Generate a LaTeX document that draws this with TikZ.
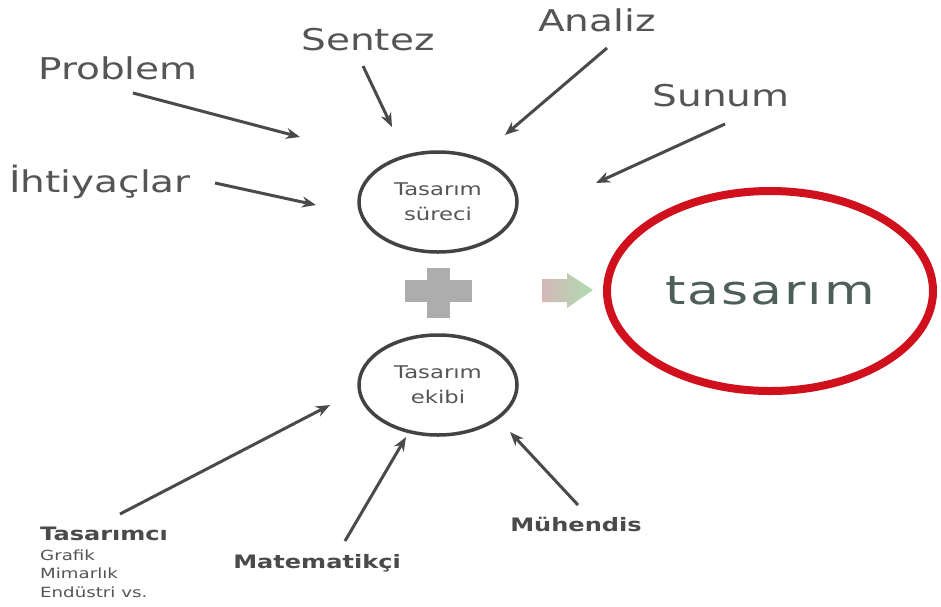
\documentclass[tikz,border=0pt]{standalone}
\usepackage{fontspec}
\setmainfont{DejaVu Sans}[FakeStretch=1.3]
\usetikzlibrary{arrows.meta,shapes.geometric}
\definecolor{lbl}{HTML}{555555}
\definecolor{arr}{HTML}{4A4A4A}
\definecolor{redc}{HTML}{D0101C}
\definecolor{bigt}{HTML}{4E5E58}
\begin{document}
\begin{tikzpicture}[x=1pt,y=-1pt,
  lab/.style={text=lbl,font=\fontsize{30}{32}\selectfont,inner sep=0pt},
  small/.style={text=arr,font=\bfseries\fontsize{18.5}{20}\selectfont,inner sep=0pt},
  tiny/.style={text=lbl,font=\fontsize{14}{16}\selectfont,inner sep=0pt,anchor=west},
  circ/.style={ellipse,draw=arr!90!black,line width=3.5pt,minimum width=158pt,minimum height=100pt,align=center,text=lbl,font=\fontsize{17.5}{25}\selectfont},
  pt/.style={-{Stealth[length=14pt,width=11pt]},draw=arr,line width=3pt}]
\useasboundingbox (0,0) rectangle (941,606);
\fill[white] (0,0) rectangle (941,606);
% circles
\node[circ] (sur) at (438,202) {Tasarım\\süreci};
\node[circ] (ekip) at (438,385) {Tasarım\\ekibi};
\node[ellipse,draw=redc,line width=8pt,minimum width=326pt,minimum height=200pt,
  text=bigt,font=\fontsize{40}{44}\selectfont] (tas) at (770,291) {t\kern2pt a\kern2pt s\kern2pt a\kern2pt r\kern2pt ı\kern2pt m};
% plus sign
\fill[black!32] (405,280) rectangle (472,302);
\fill[black!32] (427,268) rectangle (450,318);
% gradient arrow
\shade[left color=red!25!gray!45,right color=green!40!gray!45]
  (542,279) -- (567,279) -- (567,273) -- (593,290) -- (567,308) -- (567,302) -- (542,302) -- cycle;
% labels
\node[lab] (prob) at (118,68) {Problem};
\node[lab] (sent) at (368,40) {Sentez};
\node[lab] (anal) at (597,20) {Analiz};
\node[lab] (sun) at (721,96) {Sunum};
\node[lab] (iht) at (100,182) {İhtiyaçlar};
\node[small] (muh) at (576,524) {Mühendis};
\node[small] (mat) at (317,563) {Matematikçi};
\node[small,anchor=west] (tci) at (40,534) {Tasarımcı};
\node[tiny] (gra) at (40,555) {Grafik};
\node[tiny] (mim) at (40,573) {Mimarlık};
\node[tiny] (end) at (40,592) {Endüstri vs.};
% arrow tips
\coordinate (t1) at (300,137);
\coordinate (t2) at (392,127);
\coordinate (t3) at (505,135);
\coordinate (t4) at (596,183);
\coordinate (t5) at (316,205);
\coordinate (t6) at (330,405);
\coordinate (t7) at (406,437);
\coordinate (t8) at (510,432);
\coordinate (s1) at (133,93);
\coordinate (s2) at (363,66);
\coordinate (s3) at (607,48);
\coordinate (s4) at (725,124);
\coordinate (s5) at (215,183);
\coordinate (s6) at (120,514);
\coordinate (s7) at (345,541);
\coordinate (s8) at (578,505);
\draw[pt] (s1) -- (t1);
\draw[pt] (s2) -- (t2);
\draw[pt] (s3) -- (t3);
\draw[pt] (s4) -- (t4);
\draw[pt] (s5) -- (t5);
\draw[pt] (s6) -- (t6);
\draw[pt] (s7) -- (t7);
\draw[pt] (s8) -- (t8);
\end{tikzpicture}
\end{document}
